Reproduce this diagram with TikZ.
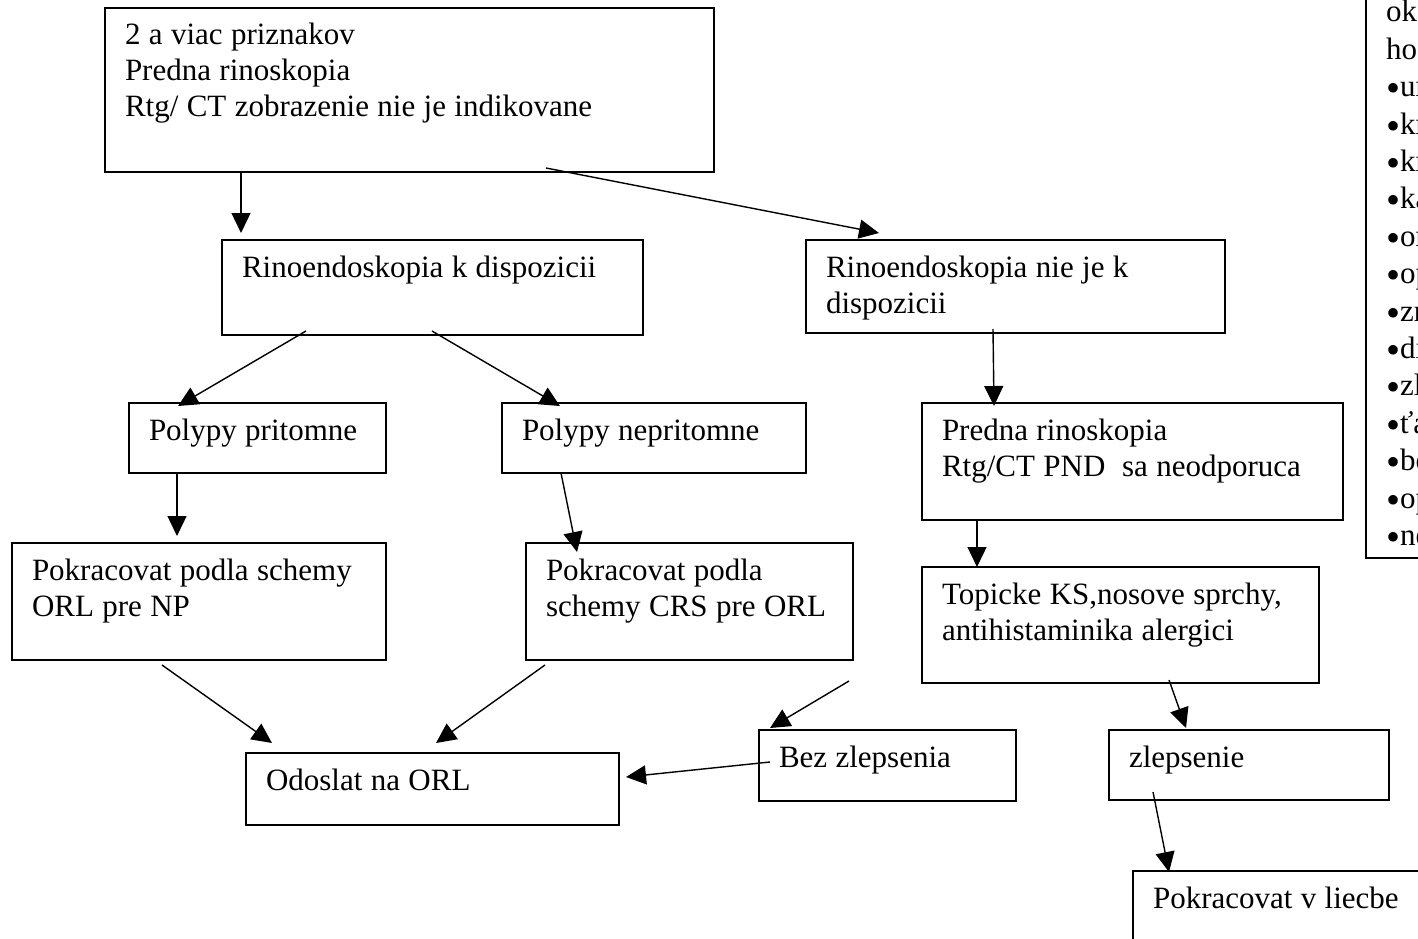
\documentclass[tikz,border=0pt]{standalone}
\usepackage{fontspec}
\setmainfont{Liberation Serif}[WordSpace=1.08]
\usetikzlibrary{arrows.meta,calc}

\newcommand{\bod}{\raisebox{-5pt}{\fontsize{40}{0}\selectfont •}}

\tikzset{
  krok/.style={draw, line width=1.4pt, anchor=north west, align=flush left,
    inner xsep=20pt, inner ysep=0pt, outer sep=0pt, text height=37pt},
  sipka/.style={line width=1.4pt, -{Triangle[length=20pt,width=19pt]}}
}

\begin{document}
\begin{tikzpicture}[x=1pt,y=-1pt,font=\fontsize{31}{36}\selectfont]
  \useasboundingbox (0,0) rectangle (1418,939);

  % boxes
  \node[krok, text width=569pt, text depth=127pt] (priznaky) at (105,8)
    {2 a viac priznakov\\Predna rinoskopia\\Rtg/ CT zobrazenie nie je indikovane};
  \node[krok, text width=381pt, text depth=58pt] (sdispo) at (222,240)
    {Rinoendoskopia k dispozicii};
  \node[krok, text width=379pt, text depth=56pt] (bezdispo) at (806,240)
    {Rinoendoskopia nie je k\\dispozicii};
  \node[krok, text width=217pt, text depth=33pt] (polypy) at (129,403)
    {\mbox{Polypy pritomne}};
  \node[krok, text width=264pt, text depth=33pt] (bezpolypov) at (502,403)
    {Polypy nepritomne};
  \node[krok, text width=381pt, text depth=80pt] (rinoskopia) at (922,403)
    {Predna rinoskopia\\Rtg/CT PND\ \ sa neodporuca};
  \node[krok, text width=334pt, text depth=80pt] (schemaNP) at (12,543)
    {\mbox{Pokracovat podla schemy}\\ORL pre NP};
  \node[krok, text width=287pt, text depth=80pt] (schemaCRS) at (526,543)
    {Pokracovat podla\\\mbox{schemy CRS pre ORL}};
  \node[krok, text width=357pt, text depth=79pt] (topicke) at (922,567)
    {\mbox{Topicke KS,nosove sprchy,}\\antihistaminika alergici};
  \node[krok, text width=333pt, text depth=35pt] (odoslat) at (246,753)
    {Odoslat na ORL};
  \node[krok, text width=217pt, text depth=34pt] (bezzlepsenia) at (759,730)
    {Bez zlepsenia};
  \node[krok, text width=240pt, text depth=33pt] (zlepsenie) at (1109,730)
    {zlepsenie};
  \node[krok, text width=360pt, text depth=83pt] (pokracovat) at (1133,871)
    {Pokracovat v liecbe};
  \node[krok, text width=160pt, text depth=536pt,
    font=\fontsize{31}{37.4}\selectfont] (poznamka) at (1366,-15)
    {ok\\ho\\\bod ur\\\bod kr\\\bod kr\\\bod ka\\\bod or\\\bod op\\\bod zn\\\bod di\\\bod zl\\\bod ťa\\\bod bo\\\bod op\\\bod ne};

  \coordinate (bezstart) at (849,681);

  % arrows
  \draw[sipka] ($(priznaky.south west)+(136,0)$) -- ($(sdispo.north west)+(19,-7)$);
  \draw[sipka] ($(priznaky.south west)+(441,-4)$) -- ($(bezdispo.north west)+(73,-7)$);
  \draw[sipka] ($(sdispo.south west)+(84,-4)$) -- ($(polypy.north west)+(49,3)$);
  \draw[sipka] ($(sdispo.south west)+(210,-4)$) -- ($(bezpolypov.north west)+(58,3)$);
  \draw[sipka] ($(bezdispo.south west)+(187,-4)$) -- ($(rinoskopia.north west)+(72,3)$);
  \draw[sipka] ($(polypy.south west)+(48,0)$) -- ($(schemaNP.north west)+(165,-7)$);
  \draw[sipka] ($(bezpolypov.south west)+(59,0)$) -- ($(schemaCRS.north west)+(51,9)$);
  \draw[sipka] ($(rinoskopia.south west)+(55,0)$) -- ($(topicke.north west)+(55,0)$);
  \draw[sipka] ($(schemaNP.south west)+(150,5)$) -- ($(odoslat.north west)+(26,-10)$);
  \draw[sipka] ($(schemaCRS.south west)+(19,5)$) -- ($(odoslat.north west)+(190,-10)$);
  \draw[sipka] (bezstart) -- ($(bezzlepsenia.north west)+(11,-2)$);
  \draw[sipka] ($(bezzlepsenia.north west)+(11,32)$) -- ($(odoslat.north east)+(7,24)$);
  \draw[sipka] ($(topicke.south west)+(247,-3)$) -- ($(zlepsenie.north west)+(77,-2)$);
  \draw[sipka] ($(zlepsenie.south west)+(44,-8)$) -- ($(pokracovat.north west)+(36,1)$);
\end{tikzpicture}
\end{document}
